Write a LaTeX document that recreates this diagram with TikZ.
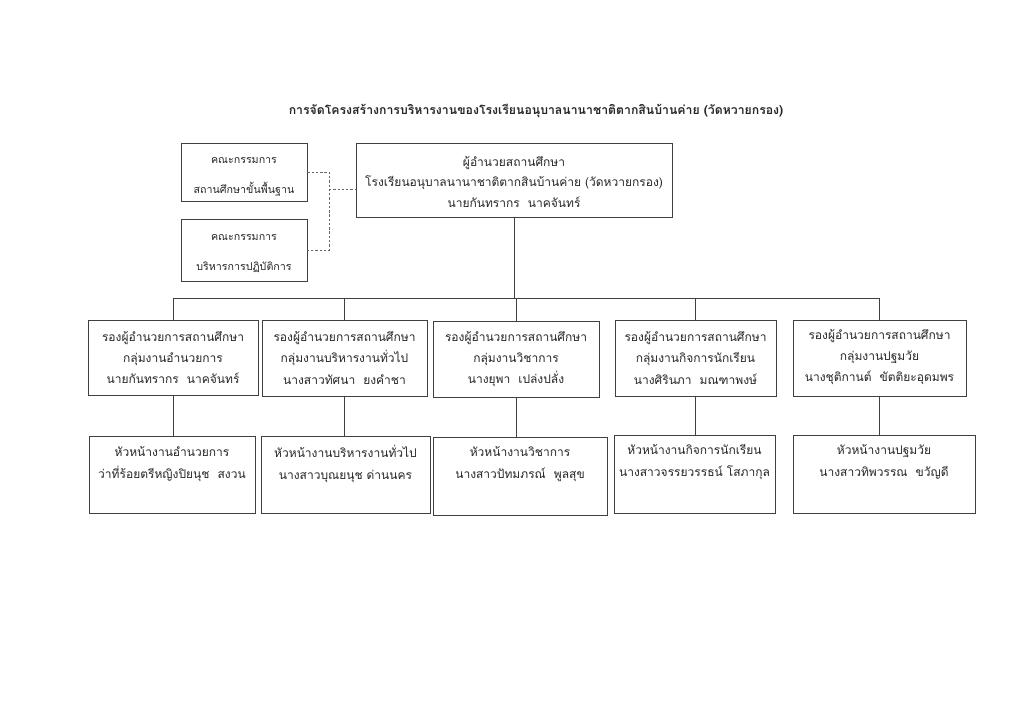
\documentclass[tikz,border=0pt]{standalone}
\usepackage{fontspec}
\setmainfont[Script=Thai]{Loma}
\begin{document}
\begin{tikzpicture}[x=0.75pt,y=-0.75pt,
  every node/.style={text=black!85},
  box/.style={draw=black!75, line width=0.6pt, rectangle, inner sep=0pt},
  deptext/.style={align=center, font=\fontsize{9pt}{16pt}\selectfont},
  headtext/.style={align=center, font=\fontsize{9pt}{16.5pt}\selectfont},
  comtext/.style={align=center, font=\fontsize{8pt}{22.5pt}\selectfont},
  conn/.style={draw=black!75, line width=0.6pt},
  dconn/.style={draw=black!60, line width=0.6pt, dash pattern=on 1.8pt off 1.4pt}]
\useasboundingbox (0,0) rectangle (1024,724);
\fill[white] (0,0) rectangle (1024,724);

% title
\node[font=\fontsize{9.2pt}{12pt}\selectfont\bfseries] (title) at (536,111) {การจัดโครงสร้างการบริหารงานของโรงเรียนอนุบาลนานาชาติตากสินบ้านค่าย (วัดหวายกรอง)};

% committee boxes
\node[box, minimum width=126*0.75pt, minimum height=58*0.75pt] (c1) at (244,172) {};
\node[comtext] (c1t) at (244,177) {คณะกรรมการ\\สถานศึกษาขั้นพื้นฐาน};
\node[box, minimum width=126*0.75pt, minimum height=62*0.75pt] (c2) at (244,250) {};
\node[comtext] (c2t) at (244,254) {คณะกรรมการ\\บริหารการปฏิบัติการ};

% director
\node[box, minimum width=316*0.75pt, minimum height=74*0.75pt] (dir) at (514,180) {};
\node[align=center, font=\fontsize{9pt}{15.5pt}\selectfont] (dirt) at (514,182) {ผู้อำนวยสถานศึกษา\\โรงเรียนอนุบาลนานาชาติตากสินบ้านค่าย (วัดหวายกรอง)\\นายกันทรากร\ \ นาคจันทร์};

% deputies
\node[box, minimum width=170*0.75pt, minimum height=75*0.75pt] (d1) at (173,357.5) {};
\node[deptext] (d1t) at (173,357.5) {รองผู้อำนวยการสถานศึกษา\\กลุ่มงานอำนวยการ\\นายกันทรากร\ \ นาคจันทร์};
\node[box, minimum width=165*0.75pt, minimum height=76*0.75pt] (d2) at (344.5,358) {};
\node[deptext] (d2t) at (344.5,358) {รองผู้อำนวยการสถานศึกษา\\กลุ่มงานบริหารงานทั่วไป\\นางสาวทัศนา\ \ ยงคำชา};
\node[box, minimum width=166*0.75pt, minimum height=76*0.75pt] (d3) at (516,359) {};
\node[deptext] (d3t) at (516,359) {รองผู้อำนวยการสถานศึกษา\\กลุ่มงานวิชาการ\\นางยุพา\ \ เปล่งปลั่ง};
\node[box, minimum width=161*0.75pt, minimum height=76*0.75pt] (d4) at (695.5,358) {};
\node[deptext] (d4t) at (695.5,358) {รองผู้อำนวยการสถานศึกษา\\กลุ่มงานกิจการนักเรียน\\นางศิรินภา\ \ มณฑาพงษ์};
\node[box, minimum width=173*0.75pt, minimum height=76*0.75pt] (d5) at (879.5,358) {};
\node[deptext] (d5t) at (879.5,357) {รองผู้อำนวยการสถานศึกษา\\กลุ่มงานปฐมวัย\\นางชุติกานต์\ \ ขัตติยะอุดมพร};

% heads
\node[box, minimum width=166*0.75pt, minimum height=77*0.75pt] (h1) at (172,474.5) {};
\node[headtext] (h1t) at (172,464) {หัวหน้างานอำนวยการ\\ว่าที่ร้อยตรีหญิงปิยนุช\ \ สงวน};
\node[box, minimum width=169*0.75pt, minimum height=77*0.75pt] (h2) at (345.5,474.5) {};
\node[headtext] (h2t) at (345.5,464) {หัวหน้างานบริหารงานทั่วไป\\นางสาวบุณยนุช ด่านนคร};
\node[box, minimum width=174*0.75pt, minimum height=78*0.75pt] (h3) at (520,476) {};
\node[headtext] (h3t) at (520,464) {หัวหน้างานวิชาการ\\นางสาวปัทมภรณ์\ \ พูลสุข};
\node[box, minimum width=161*0.75pt, minimum height=78*0.75pt] (h4) at (694.5,474) {};
\node[headtext] (h4t) at (694.5,462) {หัวหน้างานกิจการนักเรียน\\นางสาวจรรยวรรธน์ โสภากุล};
\node[box, minimum width=182*0.75pt, minimum height=78*0.75pt] (h5) at (884,474) {};
\node[headtext] (h5t) at (884,462) {หัวหน้างานปฐมวัย\\นางสาวทิพวรรณ\ \ ขวัญดี};

% connectors
\coordinate (bus) at (514,298);
\draw[conn] (dir.south) -- (bus);
\draw[conn] (d1.north |- bus) -- (d5.north |- bus);
\foreach \n in {d1,d2,d3,d4,d5} {
  \draw[conn] (\n.north) -- (\n.north |- bus);
}
\draw[conn] (d1.south) -- (d1.south |- h1.north);
\draw[conn] (d2.south) -- (d2.south |- h2.north);
\draw[conn] (d3.south) -- (d3.south |- h3.north);
\draw[conn] (d4.south) -- (d4.south |- h4.north);
\draw[conn] (d5.south) -- (d5.south |- h5.north);

% dashed committee links
\coordinate (dj) at (329,189);
\draw[dconn] (c1.east) -| (dj) |- (c2.east);
\draw[dconn] (dj) -- (dj -| dir.west);
\end{tikzpicture}
\end{document}
